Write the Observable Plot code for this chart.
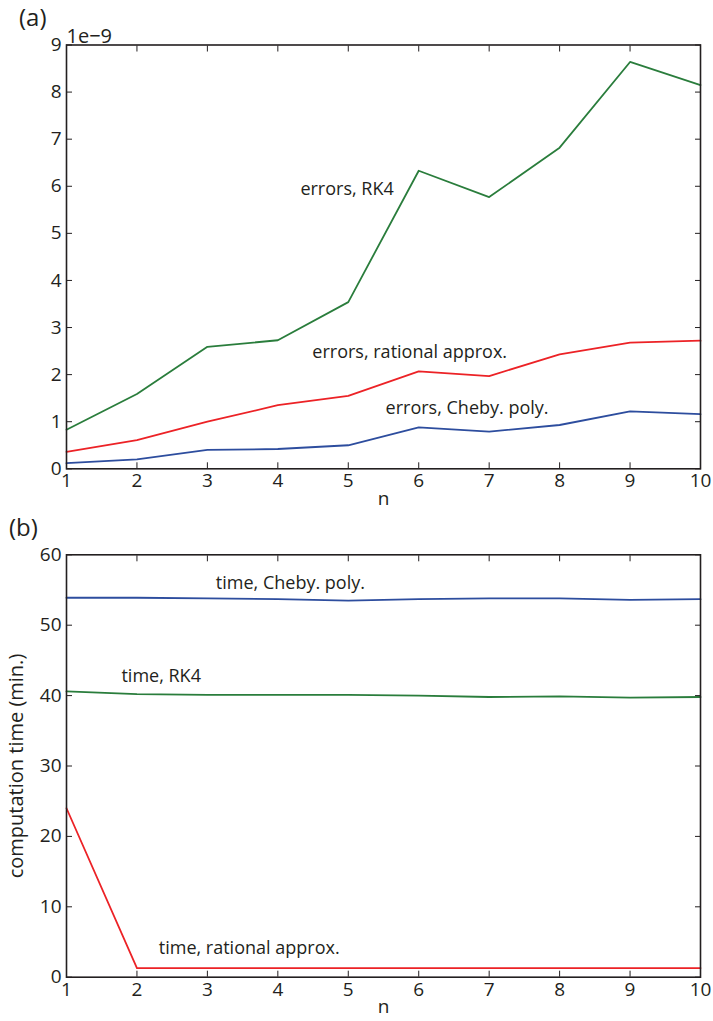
<!DOCTYPE html>
<html><head><meta charset="utf-8">
<script src="https://cdn.jsdelivr.net/npm/d3@7"></script>
<script src="https://cdn.jsdelivr.net/npm/@observablehq/plot@0.6"></script>
<style>
body{margin:0;background:#fff;font-family:"Open Sans",sans-serif;}
#wrap{position:relative;width:713px;height:1021px;overflow:hidden;}
.panel{position:absolute;left:0;}
.tag{position:absolute;font-size:24px;color:#231f20;line-height:30px;font-family:"Open Sans",sans-serif;}
.panel g[aria-label="x-axis tick label"], .panel g[aria-label="y-axis tick label"]{font-size:19px;}
</style></head><body>
<div id="wrap"></div>
<script>
// ---- data ----
const nValues = [1, 2, 3, 4, 5, 6, 7, 8, 9, 10];
// panel (a): errors, in units of 1e-9
const errRK4      = [0.83, 1.59, 2.59, 2.73, 3.54, 6.33, 5.77, 6.82, 8.64, 8.15];
const errRational = [0.36, 0.61, 1.00, 1.35, 1.55, 2.07, 1.97, 2.43, 2.68, 2.72];
const errCheby    = [0.12, 0.20, 0.40, 0.42, 0.50, 0.88, 0.79, 0.93, 1.22, 1.16];
// panel (b): computation time (min.)
const timeCheby    = [53.9, 53.9, 53.8, 53.7, 53.5, 53.7, 53.8, 53.8, 53.6, 53.7];
const timeRK4      = [40.6, 40.2, 40.1, 40.1, 40.1, 40.0, 39.8, 39.9, 39.7, 39.8];
const timeRational = [24.0, 1.3, 1.3, 1.3, 1.3, 1.3, 1.3, 1.3, 1.3, 1.3];

const xTicks = [1, 2, 3, 4, 5, 6, 7, 8, 9, 10];
const yTicksA = [0, 1, 2, 3, 4, 5, 6, 7, 8, 9];
const yTicksB = [0, 10, 20, 30, 40, 50, 60];

const labelsA = [
  {text: "errors, RK4", x: 4.32, y: 5.93},
  {text: "errors, rational approx.", x: 4.49, y: 2.47},
  {text: "errors, Cheby. poly.", x: 5.53, y: 1.28}
];
const labelsB = [
  {text: "time, Cheby. poly.", x: 3.12, y: 55.9},
  {text: "time, RK4", x: 1.78, y: 42.7},
  {text: "time, rational approx.", x: 2.31, y: 4.1}
];

const colors = {rk4: "#2a7d3c", rational: "#ec2226", cheby: "#2d4d9e"};
const ink = "#231f20";

function toRows(vals) { return nValues.map((n, i) => ({n, v: vals[i]})); }

function panel({series, yDomain, yTicks, labels, height, marginTop, marginBottom, extra}) {
  const lines = series.map(s => Plot.line(toRows(s.values), {x: "n", y: "v", stroke: s.color, strokeWidth: 1.8}));
  return Plot.plot({
    width: 713, height,
    marginLeft: 66, marginRight: 13, marginTop, marginBottom,
    style: {fontFamily: "'Open Sans', sans-serif", color: ink, background: "white", overflow: "visible"},
    x: {domain: [1, 10]},
    y: {domain: yDomain},
    marks: [
      ...lines,
      Plot.text(labels, {x: "x", y: "y", text: "text", textAnchor: "start", fontSize: 18, fill: ink}),
      // inward ticks, all four sides
      Plot.axisX(xTicks, {anchor: "bottom", tickSize: -6, fill: "none", label: null, stroke: ink}),
      Plot.axisX(xTicks, {anchor: "top", tickSize: -6, fill: "none", label: null, stroke: ink}),
      Plot.axisY(yTicks, {anchor: "left", tickSize: -6, fill: "none", label: null, stroke: ink}),
      Plot.axisY(yTicks, {anchor: "right", tickSize: -6, fill: "none", label: null, stroke: ink}),
      // tick labels
      Plot.axisX(xTicks, {anchor: "bottom", tickSize: 0, tickPadding: 5, fontSize: 19, label: null, fill: ink}),
      Plot.axisY(yTicks, {anchor: "left", tickSize: 0, tickPadding: 5, fontSize: 19, label: null, fill: ink}),
      Plot.frame({stroke: ink, strokeWidth: 1.6}),
      Plot.text(["n"], {frameAnchor: "bottom", dy: 36, fontSize: 19, fill: ink}),
      ...(extra || [])
    ]
  });
}

const wrap = document.getElementById("wrap");

const a = panel({
  series: [
    {values: errRK4, color: colors.rk4},
    {values: errRational, color: colors.rational},
    {values: errCheby, color: colors.cheby}
  ],
  yDomain: [0, 9], yTicks: yTicksA, labels: labelsA,
  height: 510, marginTop: 44.5, marginBottom: 41.7,
  extra: [Plot.text(["1e\u22129"], {frameAnchor: "top-left", textAnchor: "start", lineAnchor: "bottom", dy: -2, dx: 0, fontSize: 20, fill: ink})]
});
a.classList.add("panel"); a.style.top = "0px";
wrap.appendChild(a);

const b = panel({
  series: [
    {values: timeCheby, color: colors.cheby},
    {values: timeRK4, color: colors.rk4},
    {values: timeRational, color: colors.rational}
  ],
  yDomain: [0, 60], yTicks: yTicksB, labels: labelsB,
  height: 511, marginTop: 44.3, marginBottom: 44.3,
  extra: [Plot.text(["computation time (min.)"], {frameAnchor: "left", textAnchor: "middle", rotate: -90, dx: -50, fontSize: 20, fill: ink})]
});
b.classList.add("panel"); b.style.top = "510px";
wrap.appendChild(b);

for (const [t, x, y] of [["(a)", 19, 2], ["(b)", 9, 512]]) {
  const d = document.createElement("div");
  d.className = "tag"; d.textContent = t;
  d.style.left = x + "px"; d.style.top = y + "px";
  wrap.appendChild(d);
}
</script>
</body></html>
